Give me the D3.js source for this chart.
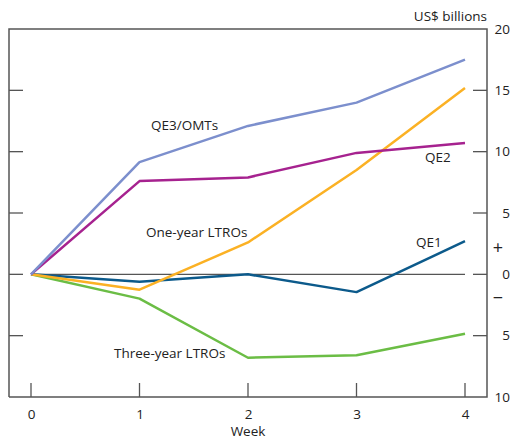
<!DOCTYPE html>
<html><head><meta charset="utf-8">
<script src="https://cdn.jsdelivr.net/npm/d3@7/dist/d3.min.js"></script>
<style>body{margin:0;background:#fff}text{font-family:"Open Sans",sans-serif;fill:#222}</style>
</head><body><svg id="c" width="512" height="439"></svg>
<script>
const weeks = [0, 1, 2, 3, 4];
const qe3 = [0, 9.15, 12.1, 14.0, 17.5];
const qe2 = [0, 7.6, 7.9, 9.9, 10.7];
const oneYear = [0, -1.25, 2.6, 8.5, 15.2];
const qe1 = [0, -0.6, 0.0, -1.45, 2.7];
const threeYear = [0, -1.98, -6.8, -6.6, -4.85];
const yTicks = [20, 15, 10, 5, 0, -5, -10];
const yTickLabels = ["20", "15", "10", "5", "0", "5", "10"];
const seriesNames = ["QE3/OMTs", "QE2", "One-year LTROs", "QE1", "Three-year LTROs"];

const svg = d3.select("#c");
const L = 9, R = 487, T = 29, B = 397;
const x = d3.scaleLinear().domain([0, 4]).range([31, 465]);
const y = d3.scaleLinear().domain([-10, 20]).range([B, T]);
const frame = "#555";
const fs = "13.5px";

// zero line
svg.append("line").attr("x1", x(0)).attr("x2", x(4)).attr("y1", y(0)).attr("y2", y(0))
  .attr("stroke", frame).attr("stroke-width", 1.3);

// frame
svg.append("path").attr("d", `M${L},${B}V${T}H${R}V${B}H${L}`).attr("fill", "none")
  .attr("stroke", frame).attr("stroke-width", 1.5);

// left ticks (inside)
svg.append("g").selectAll("line").data(yTicks.filter(d => d > -10 && d < 20)).join("line")
  .attr("x1", L).attr("x2", L + 14).attr("y1", d => y(d)).attr("y2", d => y(d))
  .attr("stroke", frame).attr("stroke-width", 1.3);
// right axis
const rAxis = d3.axisRight(y).tickValues(yTicks).tickSize(0).tickFormat((d, i) => yTickLabels[i]);
const rg = svg.append("g").attr("transform", `translate(${R},0)`).call(rAxis);
rg.select(".domain").remove();
rg.selectAll("text").attr("x", 23).attr("text-anchor", "end").style("font-size", fs)
  .style("font-family", "Open Sans, sans-serif").attr("fill", "#222");
svg.append("g").selectAll("line").data(yTicks.filter(d => d > -10 && d < 20)).join("line")
  .attr("x1", R - 14).attr("x2", R).attr("y1", d => y(d)).attr("y2", d => y(d))
  .attr("stroke", frame).attr("stroke-width", 1.3);
svg.append("text").attr("x", 498).attr("y", y(2.2)).attr("text-anchor", "middle")
  .attr("dy", "0.35em").style("font-size", "18px").text("+");
svg.append("text").attr("x", 498).attr("y", y(-1.9)).attr("text-anchor", "middle")
  .attr("dy", "0.35em").style("font-size", "18px").text("\u2212");
svg.append("text").attr("x", 487).attr("y", 21).attr("text-anchor", "end")
  .style("font-size", fs).text("US$ billions");

// bottom axis
const bAxis = d3.axisBottom(x).tickValues(weeks).tickSize(0).tickFormat(d3.format("d"));
const bg = svg.append("g").attr("transform", `translate(0,${B})`).call(bAxis);
bg.select(".domain").remove();
bg.selectAll("text").attr("y", 12).style("font-size", fs)
  .style("font-family", "Open Sans, sans-serif").attr("fill", "#222");
svg.append("g").selectAll("line").data(weeks).join("line")
  .attr("x1", d => x(d)).attr("x2", d => x(d)).attr("y1", B).attr("y2", B - 14)
  .attr("stroke", frame).attr("stroke-width", 1.3);
svg.append("text").attr("x", x(2)).attr("y", 436).attr("text-anchor", "middle")
  .style("font-size", fs).text("Week");

// series
const series = [
  {v: qe3, c: "#7c8fcd"},
  {v: qe2, c: "#a6228f"},
  {v: oneYear, c: "#fbb124"},
  {v: qe1, c: "#0c5a8b"},
  {v: threeYear, c: "#6bbd45"}
];
const line = d3.line().x((d, i) => x(weeks[i])).y(d => y(d));
series.slice().reverse().forEach(s => {
  svg.append("path").attr("d", line(s.v)).attr("fill", "none").attr("stroke", s.c)
    .attr("stroke-width", 2.5).attr("stroke-linejoin", "round");
});

// labels
const labelPos = [[151, 130], [425, 162], [146, 237], [416, 247], [114, 358]];
seriesNames.forEach((n, i) => {
  svg.append("text").attr("x", labelPos[i][0]).attr("y", labelPos[i][1])
    .style("font-size", fs).text(n);
});
</script></body></html>
